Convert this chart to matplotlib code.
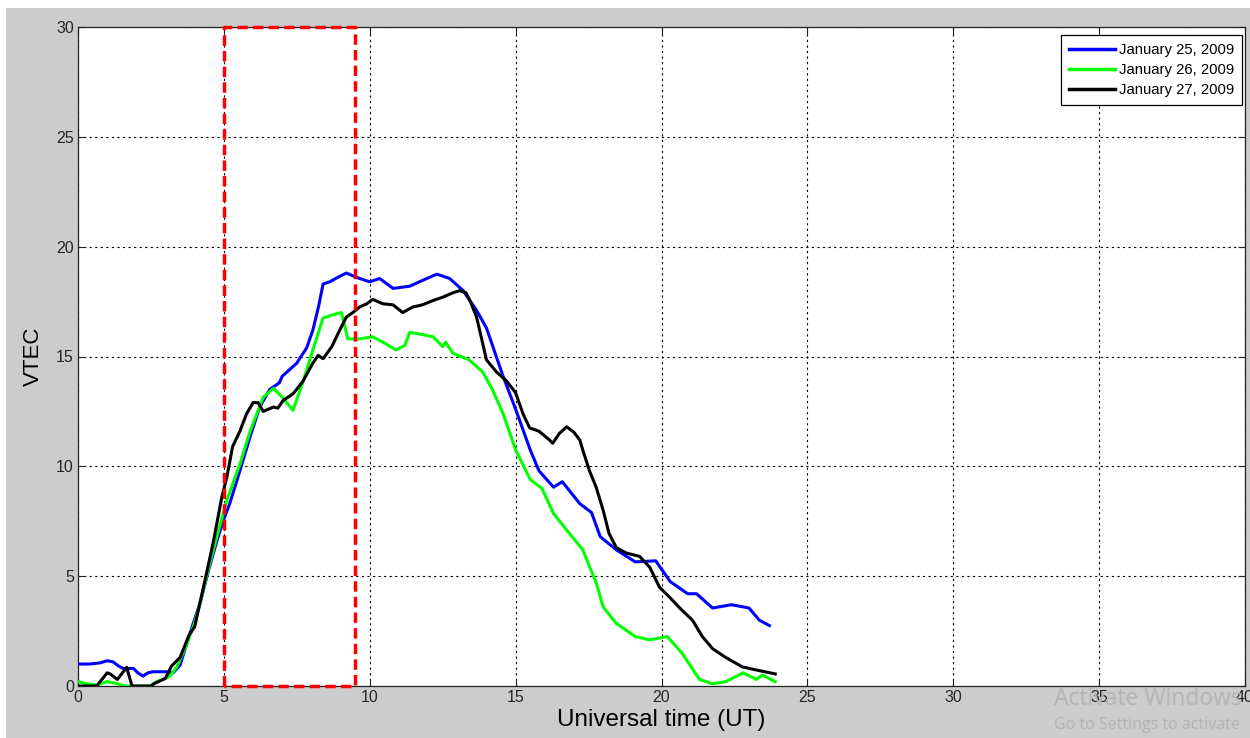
import matplotlib
matplotlib.use("Agg")
import matplotlib.pyplot as plt
from matplotlib.patches import Rectangle

# ---- data ----
t_jan25 = [0.0, 0.4, 0.75, 1.0, 1.2, 1.4, 1.55, 1.9, 2.05, 2.23, 2.4, 2.57, 3.04, 3.26, 3.5,
           3.73, 3.95, 4.18, 4.5, 4.76, 5.0, 5.2, 5.55, 5.9, 6.23, 6.57, 6.9, 7.0, 7.5, 7.84,
           8.05, 8.25, 8.4, 8.63, 8.9, 9.2, 9.55, 10.0, 10.34, 10.8, 11.37, 11.7, 12.3, 12.74,
           13.2, 13.66, 14.0, 14.57, 15.0, 15.5, 15.8, 16.3, 16.6, 17.2, 17.6, 17.9, 18.45,
           19.1, 19.8, 20.3, 20.9, 21.2, 21.75, 22.4, 23.0, 23.35, 23.7]
v_jan25 = [1.0, 1.0, 1.05, 1.15, 1.1, 0.9, 0.8, 0.8, 0.6, 0.45, 0.6, 0.65, 0.65, 0.6, 0.95,
           1.95, 2.85, 3.75, 5.4, 6.6, 7.6, 8.3, 9.8, 11.35, 12.7, 13.5, 13.8, 14.1, 14.7, 15.4,
           16.2, 17.3, 18.3, 18.4, 18.6, 18.8, 18.6, 18.4, 18.55, 18.1, 18.2, 18.4, 18.75, 18.55,
           18.0, 17.1, 16.3, 14.1, 12.6, 10.75, 9.8, 9.05, 9.3, 8.3, 7.9, 6.8, 6.2,
           5.65, 5.7, 4.75, 4.2, 4.2, 3.55, 3.7, 3.55, 3.0, 2.75]

t_jan26 = [0.0, 0.3, 0.64, 1.0, 1.36, 1.6, 2.47, 2.7, 2.92, 3.15, 3.38, 3.73, 4.0, 4.18, 4.5,
           4.8, 5.1, 5.55, 5.9, 6.35, 6.7, 7.0, 7.37, 7.7, 8.05, 8.4, 8.74, 9.03, 9.25, 9.65,
           10.1, 10.45, 10.9, 11.2, 11.37, 11.8, 12.17, 12.5, 12.6, 12.85, 13.4, 13.87, 14.2,
           14.57, 15.0, 15.5, 15.9, 16.3, 16.75, 17.3, 17.76, 18.0, 18.45, 19.1, 19.6, 20.2,
           20.7, 21.3, 21.75, 22.2, 22.8, 23.25, 23.45, 23.9]
v_jan26 = [0.2, 0.1, 0.05, 0.2, 0.1, 0.0, 0.0, 0.2, 0.3, 0.45, 0.85, 1.9, 2.9, 3.75, 5.5,
           7.0, 8.45, 10.1, 11.6, 13.15, 13.55, 13.15, 12.55, 13.8, 15.3, 16.75, 16.9, 17.0, 15.8, 15.8,
           15.9, 15.65, 15.3, 15.5, 16.1, 16.0, 15.9, 15.45, 15.65, 15.15, 14.85, 14.3, 13.5,
           12.4, 10.75, 9.4, 9.0, 7.85, 7.1, 6.2, 4.7, 3.6, 2.85, 2.25, 2.1, 2.25,
           1.5, 0.3, 0.1, 0.2, 0.6, 0.3, 0.5, 0.2]

t_jan27 = [0.0, 0.64, 1.0, 1.1, 1.35, 1.67, 1.85, 2.5, 2.6, 3.0, 3.2, 3.5, 3.8, 4.0, 4.3,
           4.63, 4.93, 5.1, 5.3, 5.55, 5.78, 6.0, 6.17, 6.35, 6.7, 6.85, 7.03, 7.37, 7.7, 8.05,
           8.23, 8.4, 8.7, 8.97, 9.2, 9.42, 9.65, 9.9, 10.1, 10.45, 10.8, 11.13, 11.47, 11.8,
           12.17, 12.5, 12.85, 13.08, 13.3, 13.45, 13.66, 13.87, 14.0, 14.34, 14.68, 15.0,
           15.25, 15.48, 15.8, 16.16, 16.27, 16.5, 16.75, 17.0, 17.2, 17.3, 17.53, 17.76, 18.0,
           18.2, 18.45, 18.8, 19.25, 19.6, 19.93, 20.27, 20.7, 21.06, 21.4, 21.75, 22.2, 22.77,
           23.35, 23.9]
v_jan27 = [0.0, 0.0, 0.6, 0.55, 0.3, 0.85, 0.0, 0.0, 0.1, 0.35, 0.9, 1.3, 2.3, 2.7, 4.5,
           6.5, 8.6, 9.5, 10.9, 11.6, 12.4, 12.9, 12.9, 12.5, 12.7, 12.65, 13.0, 13.3, 13.85, 14.7,
           15.05, 14.9, 15.45, 16.2, 16.8, 17.0, 17.25, 17.4, 17.6, 17.4, 17.35, 17.0, 17.25, 17.35,
           17.55, 17.7, 17.9, 18.0, 17.9, 17.5, 16.8, 15.6, 14.85, 14.3, 13.9, 13.35,
           12.4, 11.75, 11.6, 11.2, 11.05, 11.5, 11.8, 11.55, 11.2, 10.75, 9.8, 9.05, 8.0,
           6.95, 6.3, 6.05, 5.9, 5.4, 4.5, 4.05, 3.45, 3.0, 2.25, 1.7, 1.3, 0.87,
           0.7, 0.55]

labels = ["January 25, 2009", "January 26, 2009", "January 27, 2009"]
colors = ["#0000ff", "#00ff00", "#000000"]

box_x = [5, 5, 9.5, 9.5, 5]
box_y = [0, 30, 30, 0, 0]

x_ticks = [0, 5, 10, 15, 20, 25, 30, 35, 40]
y_ticks = [0, 5, 10, 15, 20, 25, 30]

# ---- figure ----
plt.rcParams['font.family'] = ['Liberation Sans', 'DejaVu Sans']
W, H = 1250, 738
fig = plt.figure(figsize=(W / 100, H / 100), dpi=100, facecolor='white')
fig.patches.append(Rectangle((6 / W, 0), 1, (H - 8) / H, transform=fig.transFigure,
                             facecolor='#cccccc', edgecolor='none', zorder=-10))

ax = fig.add_axes([78 / W, (H - 686) / H, (1245 - 78) / W, (686 - 27) / H])
ax.set_facecolor('white')

for t, v, lab, c in zip([t_jan25, t_jan26, t_jan27], [v_jan25, v_jan26, v_jan27], labels, colors):
    ax.plot(t, v, color=c, lw=2.2, label=lab, zorder=3)

ax.plot(box_x, box_y, color='#ff0000', lw=2.5, dashes=(3, 1.5), clip_on=False, zorder=4)

ax.set_xlim(0, 40)
ax.set_ylim(0, 30)
ax.set_xticks(x_ticks)
ax.set_yticks(y_ticks)
ax.grid(True, color='black', linestyle=(0, (2, 3)), lw=0.8, zorder=1)
ax.tick_params(direction='in', length=5, width=0.8, top=True, right=True,
               labelsize=11.5, colors='#222222', labelcolor='#262626', pad=3)
for s in ax.spines.values():
    s.set_linewidth(0.9)
    s.set_color('#222222')

ax.set_xlabel("Universal time (UT)", fontsize=17.5, labelpad=3)
ax.set_ylabel("VTEC", fontsize=16, labelpad=9)

leg = ax.legend(loc='upper right', bbox_to_anchor=((1242 - 78) / 1167, (686 - 35) / 659),
                borderaxespad=0, fancybox=False, framealpha=1, edgecolor='black',
                fontsize=10.7, handlelength=3.1, handletextpad=0.25, labelspacing=0.4,
                borderpad=0.55)
leg.get_frame().set_linewidth(0.9)
for l in leg.get_lines():
    l.set_linewidth(2.5)

fig.text(1054 / W, (H - 705) / H, "Activate Windows", fontsize=16.5, color='#b5b5b5',
         family=['Open Sans', 'DejaVu Sans'], zorder=20)
fig.text(1054 / W, (H - 729) / H, "Go to Settings to activate", fontsize=11.5,
         color='#b5b5b5', family=['Open Sans', 'DejaVu Sans'], zorder=20)

fig.savefig("out.png", dpi=100, facecolor=fig.get_facecolor())
